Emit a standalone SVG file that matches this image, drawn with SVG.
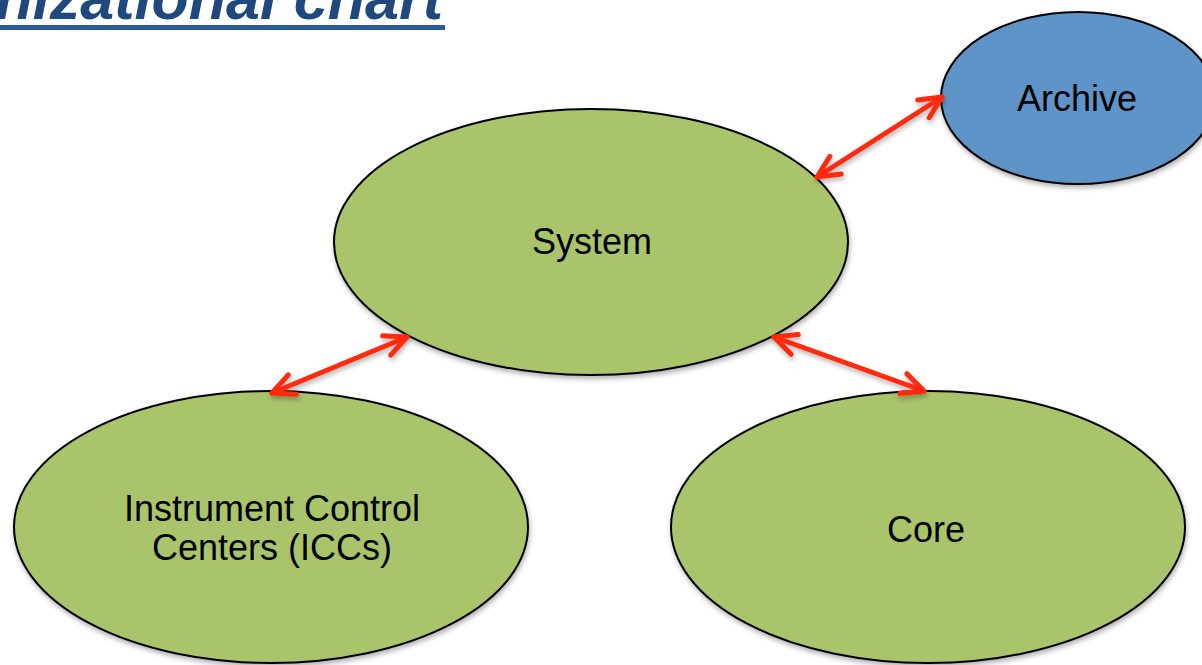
<svg xmlns="http://www.w3.org/2000/svg" width="1202" height="665" viewBox="0 0 1202 665">
  <style>
    .node { stroke: #000; stroke-width: 2; }
    .green { fill: #AAC46C; }
    .blue { fill: #5E94C8; }
    .label { font-family: "Liberation Sans", Arial, sans-serif; font-size: 36px; fill: #000; text-anchor: middle; }
    .title { font-family: "Liberation Sans", Arial, sans-serif; font-size: 61px; font-weight: bold; font-style: italic; fill: #1F497D; text-anchor: end; }
    .conn { stroke: #FF2A0A; stroke-width: 5; fill: none; stroke-linecap: round; marker-start: url(#arrow); marker-end: url(#arrow); }
  </style>
  <defs>
    <marker id="arrow" markerUnits="userSpaceOnUse" viewBox="-27 -15 31 30" refX="0" refY="0" markerWidth="31" markerHeight="30" orient="auto-start-reverse">
      <path d="M-22,-10.5 L0,0 L-22,10.5" fill="none" stroke="#FF2A0A" stroke-width="5" stroke-linecap="round" stroke-linejoin="round"/>
    </marker>
    <filter id="shadow" x="-10%" y="-10%" width="120%" height="130%">
      <feDropShadow dx="1" dy="3" stdDeviation="2.5" flood-color="#000" flood-opacity="0.3"/>
    </filter>
  </defs>

  <g id="title">
    <text class="title" x="443" y="19">nizational chart</text>
    <rect x="0" y="25" width="445" height="5" fill="#2A5D97"/>
  </g>

  <g id="node-archive">
    <ellipse class="node blue" cx="1078" cy="98" rx="137" ry="86" filter="url(#shadow)"/>
    <text class="label" x="1077" y="111">Archive</text>
  </g>

  <g id="node-system">
    <ellipse class="node green" cx="591" cy="242" rx="257" ry="133" filter="url(#shadow)"/>
    <text class="label" x="592" y="254">System</text>
  </g>

  <g id="node-iccs">
    <ellipse class="node green" cx="271" cy="527" rx="257" ry="136" filter="url(#shadow)"/>
    <text class="label" x="272" y="521">Instrument Control</text>
    <text class="label" x="272" y="560">Centers (ICCs)</text>
  </g>

  <g id="node-core">
    <ellipse class="node green" cx="928" cy="527" rx="257" ry="136" filter="url(#shadow)"/>
    <text class="label" x="926" y="542">Core</text>
  </g>

  <g id="connectors" filter="url(#shadow)">
    <line class="conn" x1="817" y1="177" x2="942" y2="97"/>
    <line class="conn" x1="272" y1="393" x2="407" y2="337"/>
    <line class="conn" x1="774" y1="337" x2="924" y2="391"/>
  </g>
</svg>
